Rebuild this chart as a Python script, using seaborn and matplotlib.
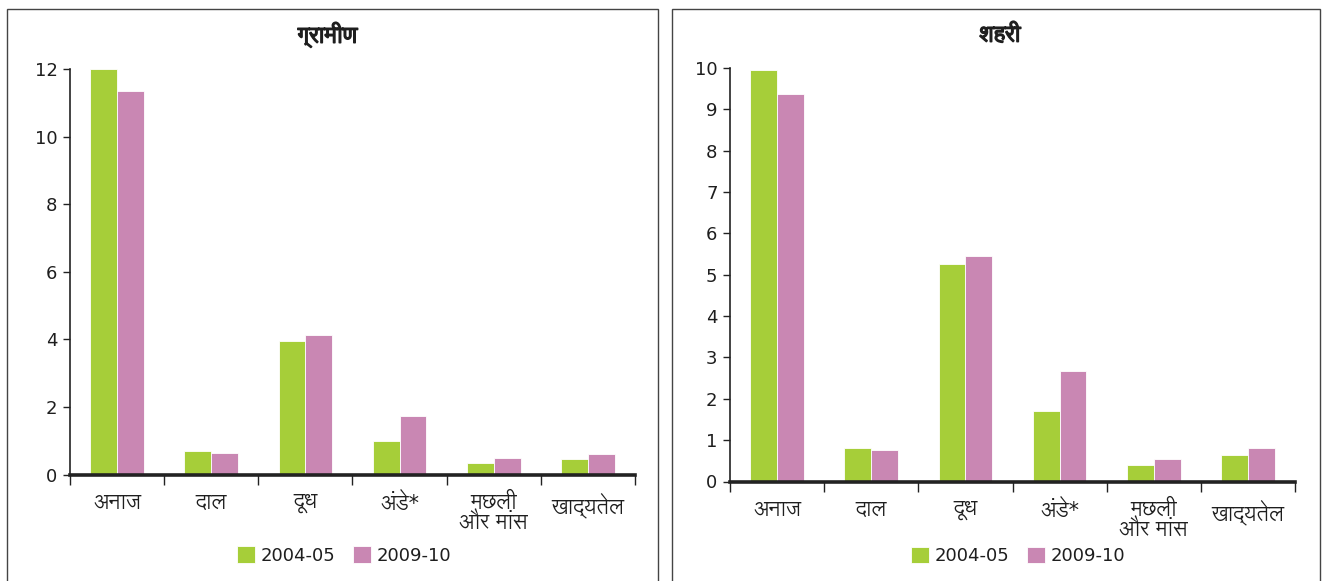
import matplotlib
matplotlib.use("Agg")
import matplotlib.pyplot as plt
import matplotlib.patheffects as pe
import seaborn as sns
import pandas as pd
import numpy as np
from matplotlib import font_manager
from matplotlib.ft2font import FT2Font
from matplotlib.patches import Rectangle
from matplotlib.ticker import FixedLocator

# ---------------- data ----------------
categories = ["अनाज", "दाल", "दूध", "अंडे*", "मछली\nऔर मांस", "खाद्यतेल"]
series_names = ["2004-05", "2009-10"]
rural_2004 = [12.0, 0.69, 3.95, 1.00, 0.34, 0.47]
rural_2009 = [11.34, 0.64, 4.14, 1.72, 0.48, 0.62]
urban_2004 = [9.95, 0.81, 5.26, 1.71, 0.40, 0.65]
urban_2009 = [9.36, 0.77, 5.46, 2.67, 0.55, 0.81]
titles = ["ग्रामीण", "शहरी"]
rural_yticks = [0, 2, 4, 6, 8, 10, 12]
urban_yticks = [0, 1, 2, 3, 4, 5, 6, 7, 8, 9, 10]

GREEN = "#a6ce39"
PINK = "#c987b3"
TEXT = "#1e1e1e"

# ---------------- fonts ----------------
def devanagari_fonts():
    found = []
    for f in font_manager.fontManager.ttflist:
        try:
            cm = FT2Font(f.fname).get_charmap()
        except Exception:
            continue
        if 0x0905 in cm and 0x0928 in cm and 0x093E in cm:
            if f.name not in found:
                found.append(f.name)
    return found

sns.set_theme(style="white")
cands = devanagari_fonts()
preferred = ["Lohit Devanagari", "Noto Sans Devanagari", "FreeSans", "FreeSerif"]
deva = None
for p in preferred:
    if p in cands:
        deva = p
        break
if deva is None:
    others = [n for n in cands if "mono" not in n.lower() and "unifont" not in n.lower()]
    deva = (others or cands or [None])[0]
families = ["DejaVu Sans"] + ([deva] if deva else [])
plt.rcParams["font.family"] = families
plt.rcParams["text.color"] = TEXT
plt.rcParams["xtick.color"] = TEXT
plt.rcParams["ytick.color"] = TEXT


def make_df(a, b):
    rows = []
    for c, v in zip(categories, a):
        rows.append({"cat": c, "series": series_names[0], "val": v})
    for c, v in zip(categories, b):
        rows.append({"cat": c, "series": series_names[1], "val": v})
    return pd.DataFrame(rows)


W, H = 1323, 581
fig = plt.figure(figsize=(W / 100, H / 100), dpi=100)

# panel frames
for (x0, x1) in [(7, 658), (672, 1320)]:
    fig.add_artist(Rectangle((x0 / W, -0.05), (x1 - x0) / W, 1.05 - 9 / H,
                             transform=fig.transFigure, fill=False,
                             edgecolor="#444444", linewidth=1.0))

panels = [
    dict(a=rural_2004, b=rural_2009, ymax=12, yticks=rural_yticks,
         box=(70, 635, 69, 474.5), title=titles[0], tx=328, leg=(0.485, -0.20)),
    dict(a=urban_2004, b=urban_2009, ymax=10, yticks=urban_yticks,
         box=(730, 1295, 68, 481.5), title=titles[1], tx=1000, leg=(0.51, -0.18)),
]

for p in panels:
    x0, x1, yt, yb = p["box"]
    ax = fig.add_axes([x0 / W, 1 - yb / H, (x1 - x0) / W, (yb - yt) / H])
    df = make_df(p["a"], p["b"])
    sns.barplot(data=df, x="cat", y="val", hue="series", palette=[GREEN, PINK],
                width=0.57, saturation=1, ax=ax, edgecolor="white", linewidth=0.6,
                errorbar=None)
    ax.set_xlim(-0.5, len(categories) - 0.5)
    ax.set_ylim(0, p["ymax"])
    ax.set_yticks(p["yticks"])
    ax.set_yticklabels([str(t) for t in p["yticks"]], fontsize=13)
    ax.set_xticks(range(len(categories)))
    ax.set_xticklabels(categories, fontsize=15, linespacing=1.0)
    ax.xaxis.set_minor_locator(FixedLocator(np.arange(-0.5, len(categories), 1.0)))
    ax.tick_params(axis="x", which="major", length=0, pad=13)
    ax.tick_params(axis="x", which="minor", length=7, width=1.0, direction="out",
                   color="#222222", bottom=True)
    ax.tick_params(axis="y", which="major", length=5, width=1.0, direction="out",
                   color="#222222", left=True, pad=4)
    ax.set_xlabel("")
    ax.set_ylabel("")
    for s in ["top", "right"]:
        ax.spines[s].set_visible(False)
    ax.spines["left"].set_linewidth(1.2)
    ax.spines["left"].set_color("#222222")
    ax.spines["bottom"].set_linewidth(2.6)
    ax.spines["bottom"].set_color("#222222")
    ax.set_facecolor("white")
    leg = ax.legend(loc="center", bbox_to_anchor=p["leg"], ncol=2, frameon=False,
                    fontsize=13, handlelength=1.0, handleheight=1.0,
                    handletextpad=0.3, columnspacing=1.0)
    fig.text(p["tx"] / W, 1 - 35 / H, p["title"], ha="center", va="center",
             fontsize=16, fontweight="bold",
             path_effects=[pe.withStroke(linewidth=1.1, foreground=TEXT)])

fig.savefig("out.png", dpi=100, facecolor="white")
